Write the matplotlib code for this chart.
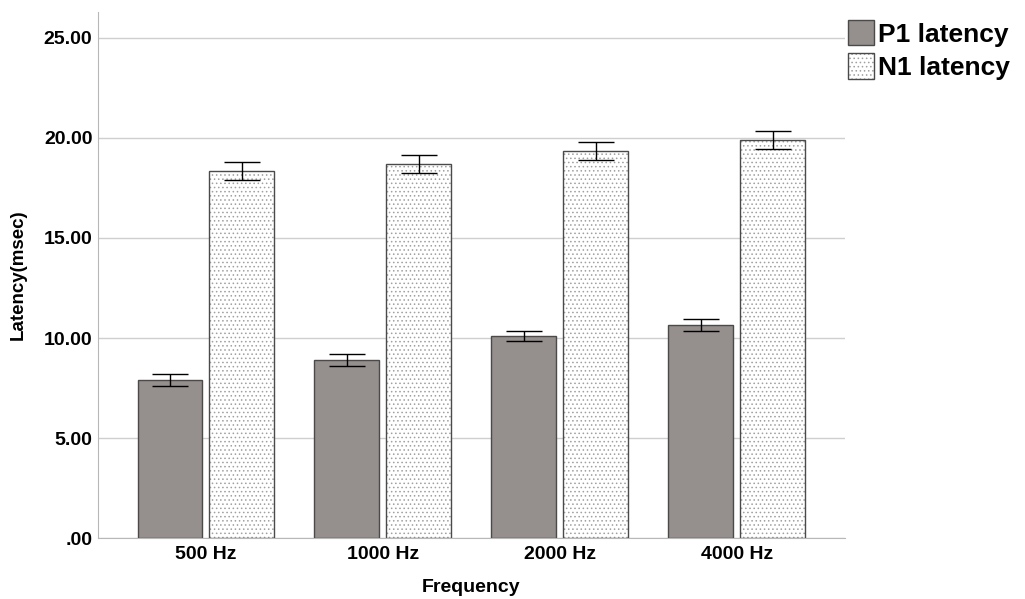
import numpy as np
import matplotlib
matplotlib.use('Agg')
from matplotlib import pyplot as plt
from matplotlib.patches import Patch

plt.rcParams['font.family'] = ['Liberation Sans', 'DejaVu Sans']
plt.rcParams['hatch.linewidth'] = 0.6

# Data
frequencies = ['500 Hz', '1000 Hz', '2000 Hz', '4000 Hz']
p1_latency = [7.9, 8.9, 10.1, 10.65]
p1_err = [0.32, 0.3, 0.25, 0.32]
n1_latency = [18.35, 18.7, 19.35, 19.9]
n1_err = [0.47, 0.47, 0.45, 0.47]

fig = plt.figure(figsize=(10.25, 5.99), dpi=100)
ax = fig.add_axes([0.0956, 0.1018, 0.7284, 0.8782])

x = np.arange(len(frequencies))
width = 0.367
offset = 0.203

# P1 bars
ax.bar(x - offset, p1_latency, width, color='#958f8d', edgecolor='#4a4a4a', linewidth=1, zorder=3)
# N1 bars: hatched fill + dark outline
ax.bar(x + offset, n1_latency, width, color='white', edgecolor='#a0a0a0', hatch='....', linewidth=0, zorder=3)
ax.bar(x + offset, n1_latency, width, fill=False, edgecolor='#4a4a4a', linewidth=1, zorder=4)

ax.errorbar(x - offset, p1_latency, yerr=p1_err, fmt='none', ecolor='black', elinewidth=1, capsize=13, capthick=1, zorder=5)
ax.errorbar(x + offset, n1_latency, yerr=n1_err, fmt='none', ecolor='black', elinewidth=1, capsize=13, capthick=1, zorder=5)

ax.set_xlim(-0.61, 3.61)
ax.set_ylim(0, 26.3)
ax.set_yticks([0, 5, 10, 15, 20, 25])
ax.set_yticklabels(['.00', '5.00', '10.00', '15.00', '20.00', '25.00'], fontsize=14, fontweight='bold')
ax.set_xticks(x)
ax.set_xticklabels(frequencies, fontsize=14, fontweight='bold')
ax.tick_params(axis='y', length=0, pad=4)
ax.tick_params(axis='x', length=0, pad=6)

ax.grid(axis='y', color='#cfcfcf', linewidth=1, zorder=0)
ax.set_axisbelow(True)
for side in ['top', 'right']:
    ax.spines[side].set_visible(False)
ax.spines['left'].set_color('#b8b8b8')
ax.spines['bottom'].set_color('#b8b8b8')

ax.set_xlabel('Frequency', fontsize=14, fontweight='bold', labelpad=11)
ax.set_ylabel('Latency(msec)', fontsize=13.5, fontweight='bold', labelpad=12)

p1_handle = Patch(facecolor='#958f8d', edgecolor='#4a4a4a', linewidth=1)
n1_fill = Patch(facecolor='white', edgecolor='#a0a0a0', hatch='....', linewidth=0)
n1_edge = Patch(fill=False, edgecolor='#4a4a4a', linewidth=1)
fig.legend([p1_handle, (n1_fill, n1_edge)], ['P1 latency', 'N1 latency'],
           loc='upper left', bbox_to_anchor=(0.817, 0.984), frameon=False,
           prop={'size': 19, 'weight': 'bold'}, handlelength=1.0, handleheight=1.1,
           handletextpad=0.15, labelspacing=0.25, borderaxespad=0)

fig.savefig('out.png', dpi=100)
